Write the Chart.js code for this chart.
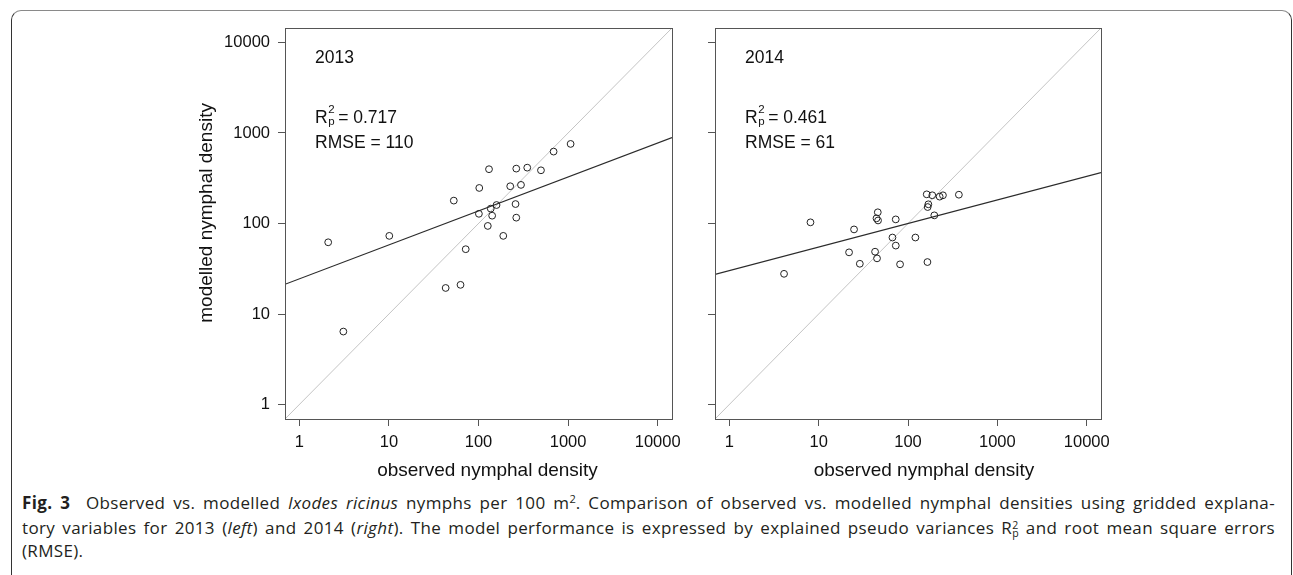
<!DOCTYPE html>
<html>
<head>
<meta charset="utf-8">
<script src="https://cdn.jsdelivr.net/npm/chart.js@4.4.1/dist/chart.umd.min.js"></script>
<style>
body { margin: 0; background: #fff; width: 1293px; height: 575px; overflow: hidden; position: relative; }
#frame { position: absolute; left: 11px; top: 10px; width: 1281px; height: 620px; box-sizing: border-box;
  border-top: 1.5px solid #8a8a8a; border-left: 1.5px solid #333; border-right: 1.5px solid #333;
  border-top-left-radius: 10px; border-top-right-radius: 10px; }
#left { position: absolute; left: 0; top: 0; }
#right { position: absolute; left: 690px; top: 0; }
.cap { position: absolute; left: 22px; width: 1253px; height: 20px; line-height: 20px;
  font-family: 'Open Sans', sans-serif; font-size: 17px; letter-spacing: 0.02em; color: #231f20;
  white-space: nowrap; text-align: justify; text-align-last: justify; }
.cap sup { font-size: 0.65em; line-height: 0; vertical-align: 0.55em; letter-spacing: 0; }
.ss { display: inline-block; font-size: 0.62em; line-height: 0.8; vertical-align: -0.3em; letter-spacing: 0; text-align: left; text-align-last: left; }
</style>
</head>
<body>
<div id="frame"></div>
<canvas id="left" width="690" height="480"></canvas>
<canvas id="right" width="603" height="480"></canvas>
<div class="cap" style="top:493px"><b>Fig. 3</b>&nbsp; Observed vs. modelled <i>Ixodes ricinus</i> nymphs per 100 m<sup>2</sup>. Comparison of observed vs. modelled nymphal densities using gridded explana-</div>
<div class="cap" style="top:518px">tory variables for 2013 (<i>left</i>) and 2014 (<i>right</i>). The model performance is expressed by explained pseudo variances R<span class="ss">2<br>p</span> and root mean square errors</div>
<div class="cap" style="top:541px; text-align-last:left">(RMSE).</div>
<script>
var tickValues = [1, 10, 100, 1000, 10000];
var axisMin = 0.692;
var axisMax = 14450;

// 2013 panel: observed vs modelled density
var obs2013 = [131, 264, 350, 498, 689, 1067, 102, 226, 298, 53, 159, 137, 259, 101, 142, 264, 127, 10.1, 189, 2.1, 72, 43, 63, 3.1];
var mod2013 = [398, 404, 414, 387, 623, 757, 247, 258, 267, 179, 160, 146, 164, 128, 122, 116, 94, 73, 73, 62, 52, 19.4, 21, 6.4];

// 2014 panel
var obs2014 = [8.1, 24.9, 45.9, 44.4, 46.2, 72.9, 162, 187, 226, 246, 371, 169, 166, 197, 67, 121, 73, 21.9, 42.8, 45, 28.9, 81.5, 165, 4.1];
var mod2014 = [103, 86, 133, 114, 108, 111, 210, 205, 198, 205, 208, 163, 152, 123, 70, 70, 57, 48, 48.8, 41.2, 35.9, 35.4, 37.5, 27.8];

// regression line ends at the axis limits, and the 1:1 line
var lineX = [0.692, 14450];
var fit2013 = [21.3, 889];
var fit2014 = [27.4, 365];
var oneToOne = [0.692, 14450];

var stats2013 = { year: '2013', r2: '0.717', rmse: '110' };
var stats2014 = { year: '2014', r2: '0.461', rmse: '61' };

var xTitle = 'observed nymphal density';
var yTitle = 'modelled nymphal density';

Chart.defaults.font.family = "'Liberation Sans', Arial, sans-serif";
Chart.defaults.color = '#111';

function toPoints(xs, ys) {
  var pts = [];
  for (var i = 0; i < xs.length; i++) {
    pts.push({ x: xs[i], y: ys[i] });
  }
  return pts;
}

var panelText = {
  id: 'panelText',
  afterDraw: function(chart, args, o) {
    var ctx = chart.ctx;
    var ca = chart.chartArea;
    ctx.save();
    ctx.strokeStyle = '#555';
    ctx.lineWidth = 1;
    ctx.strokeRect(Math.round(ca.left) + 0.5, Math.round(ca.top) + 0.5, Math.round(ca.right - ca.left), Math.round(ca.bottom - ca.top));

    ctx.fillStyle = '#111';
    ctx.textBaseline = 'alphabetic';
    ctx.textAlign = 'left';
    var x0 = ca.left + 30;
    ctx.font = "17.5px 'Liberation Sans', Arial, sans-serif";
    ctx.fillText(o.stats.year, x0, ca.top + 35.3);
    ctx.fillText('R', x0, ca.top + 95.3);
    var wR = ctx.measureText('R').width;
    ctx.fillText('RMSE = ' + o.stats.rmse, x0, ca.top + 120.3);
    ctx.font = "11.5px 'Liberation Sans', Arial, sans-serif";
    ctx.fillText('2', x0 + wR + 0.5, ca.top + 84.8);
    ctx.fillText('p', x0 + wR + 0.5, ca.top + 97.3);
    ctx.font = "17.5px 'Liberation Sans', Arial, sans-serif";
    ctx.fillText('= ' + o.stats.r2, x0 + wR + 10.5, ca.top + 95.3);

    ctx.font = "19px 'Liberation Sans', Arial, sans-serif";
    ctx.textAlign = 'center';
    ctx.textBaseline = 'middle';
    ctx.fillText(xTitle, (ca.left + ca.right) / 2 + o.xTitleShift, ca.bottom + 51.7);
    if (o.showYTitle) {
      ctx.translate(ca.left - 78.3, (ca.top + ca.bottom) / 2 - 10.6);
      ctx.rotate(-Math.PI / 2);
      ctx.fillText(yTitle, 0, 0);
    }
    ctx.restore();
  }
};

function logAxis(fixSize, showLabels, pad, horizontal) {
  return {
    type: 'logarithmic',
    min: axisMin,
    max: axisMax,
    afterBuildTicks: function(scale) {
      scale.ticks = tickValues.map(function(v) { return { value: v }; });
    },
    afterFit: function(scale) {
      if (horizontal) { scale.height = fixSize; } else { scale.width = fixSize; }
    },
    ticks: {
      display: true,
      autoSkip: false,
      maxRotation: 0,
      padding: pad,
      color: '#111',
      font: { size: 16.5 },
      callback: function(v) { return showLabels ? String(v) : ''; }
    },
    grid: { drawOnChartArea: false, drawTicks: true, tickLength: 7, color: '#555', lineWidth: 1 },
    border: { display: false }
  };
}

function makePanel(id, obs, mod, fit, stats, yAxisWidth, rightPad, showYLabels, xShift) {
  return new Chart(document.getElementById(id), {
    type: 'scatter',
    data: {
      datasets: [
        {
          data: toPoints(obs, mod),
          pointStyle: 'circle',
          pointRadius: 3.4,
          borderWidth: 1,
          borderColor: '#222',
          backgroundColor: 'rgba(0,0,0,0)'
        },
        {
          data: toPoints(lineX, fit),
          showLine: true,
          pointRadius: 0,
          borderWidth: 1.2,
          borderColor: '#2b2b2b'
        },
        {
          data: toPoints(lineX, oneToOne),
          showLine: true,
          pointRadius: 0,
          borderWidth: 1,
          borderColor: '#c4c4c4'
        }
      ]
    },
    options: {
      responsive: false,
      animation: false,
      devicePixelRatio: 1,
      layout: { padding: { left: 0, right: rightPad, top: 28, bottom: 0 } },
      scales: {
        x: logAxis(61, true, 7, true),
        y: logAxis(yAxisWidth, showYLabels, 8, false)
      },
      plugins: {
        legend: { display: false },
        tooltip: { enabled: false },
        panelText: { stats: stats, showYTitle: showYLabels, xTitleShift: xShift }
      }
    },
    plugins: [panelText]
  });
}

makePanel('left', obs2013, mod2013, fit2013, stats2013, 285, 18, true, 9);
makePanel('right', obs2014, mod2014, fit2014, stats2014, 25, 192, false, 16);
</script>
</body>
</html>
